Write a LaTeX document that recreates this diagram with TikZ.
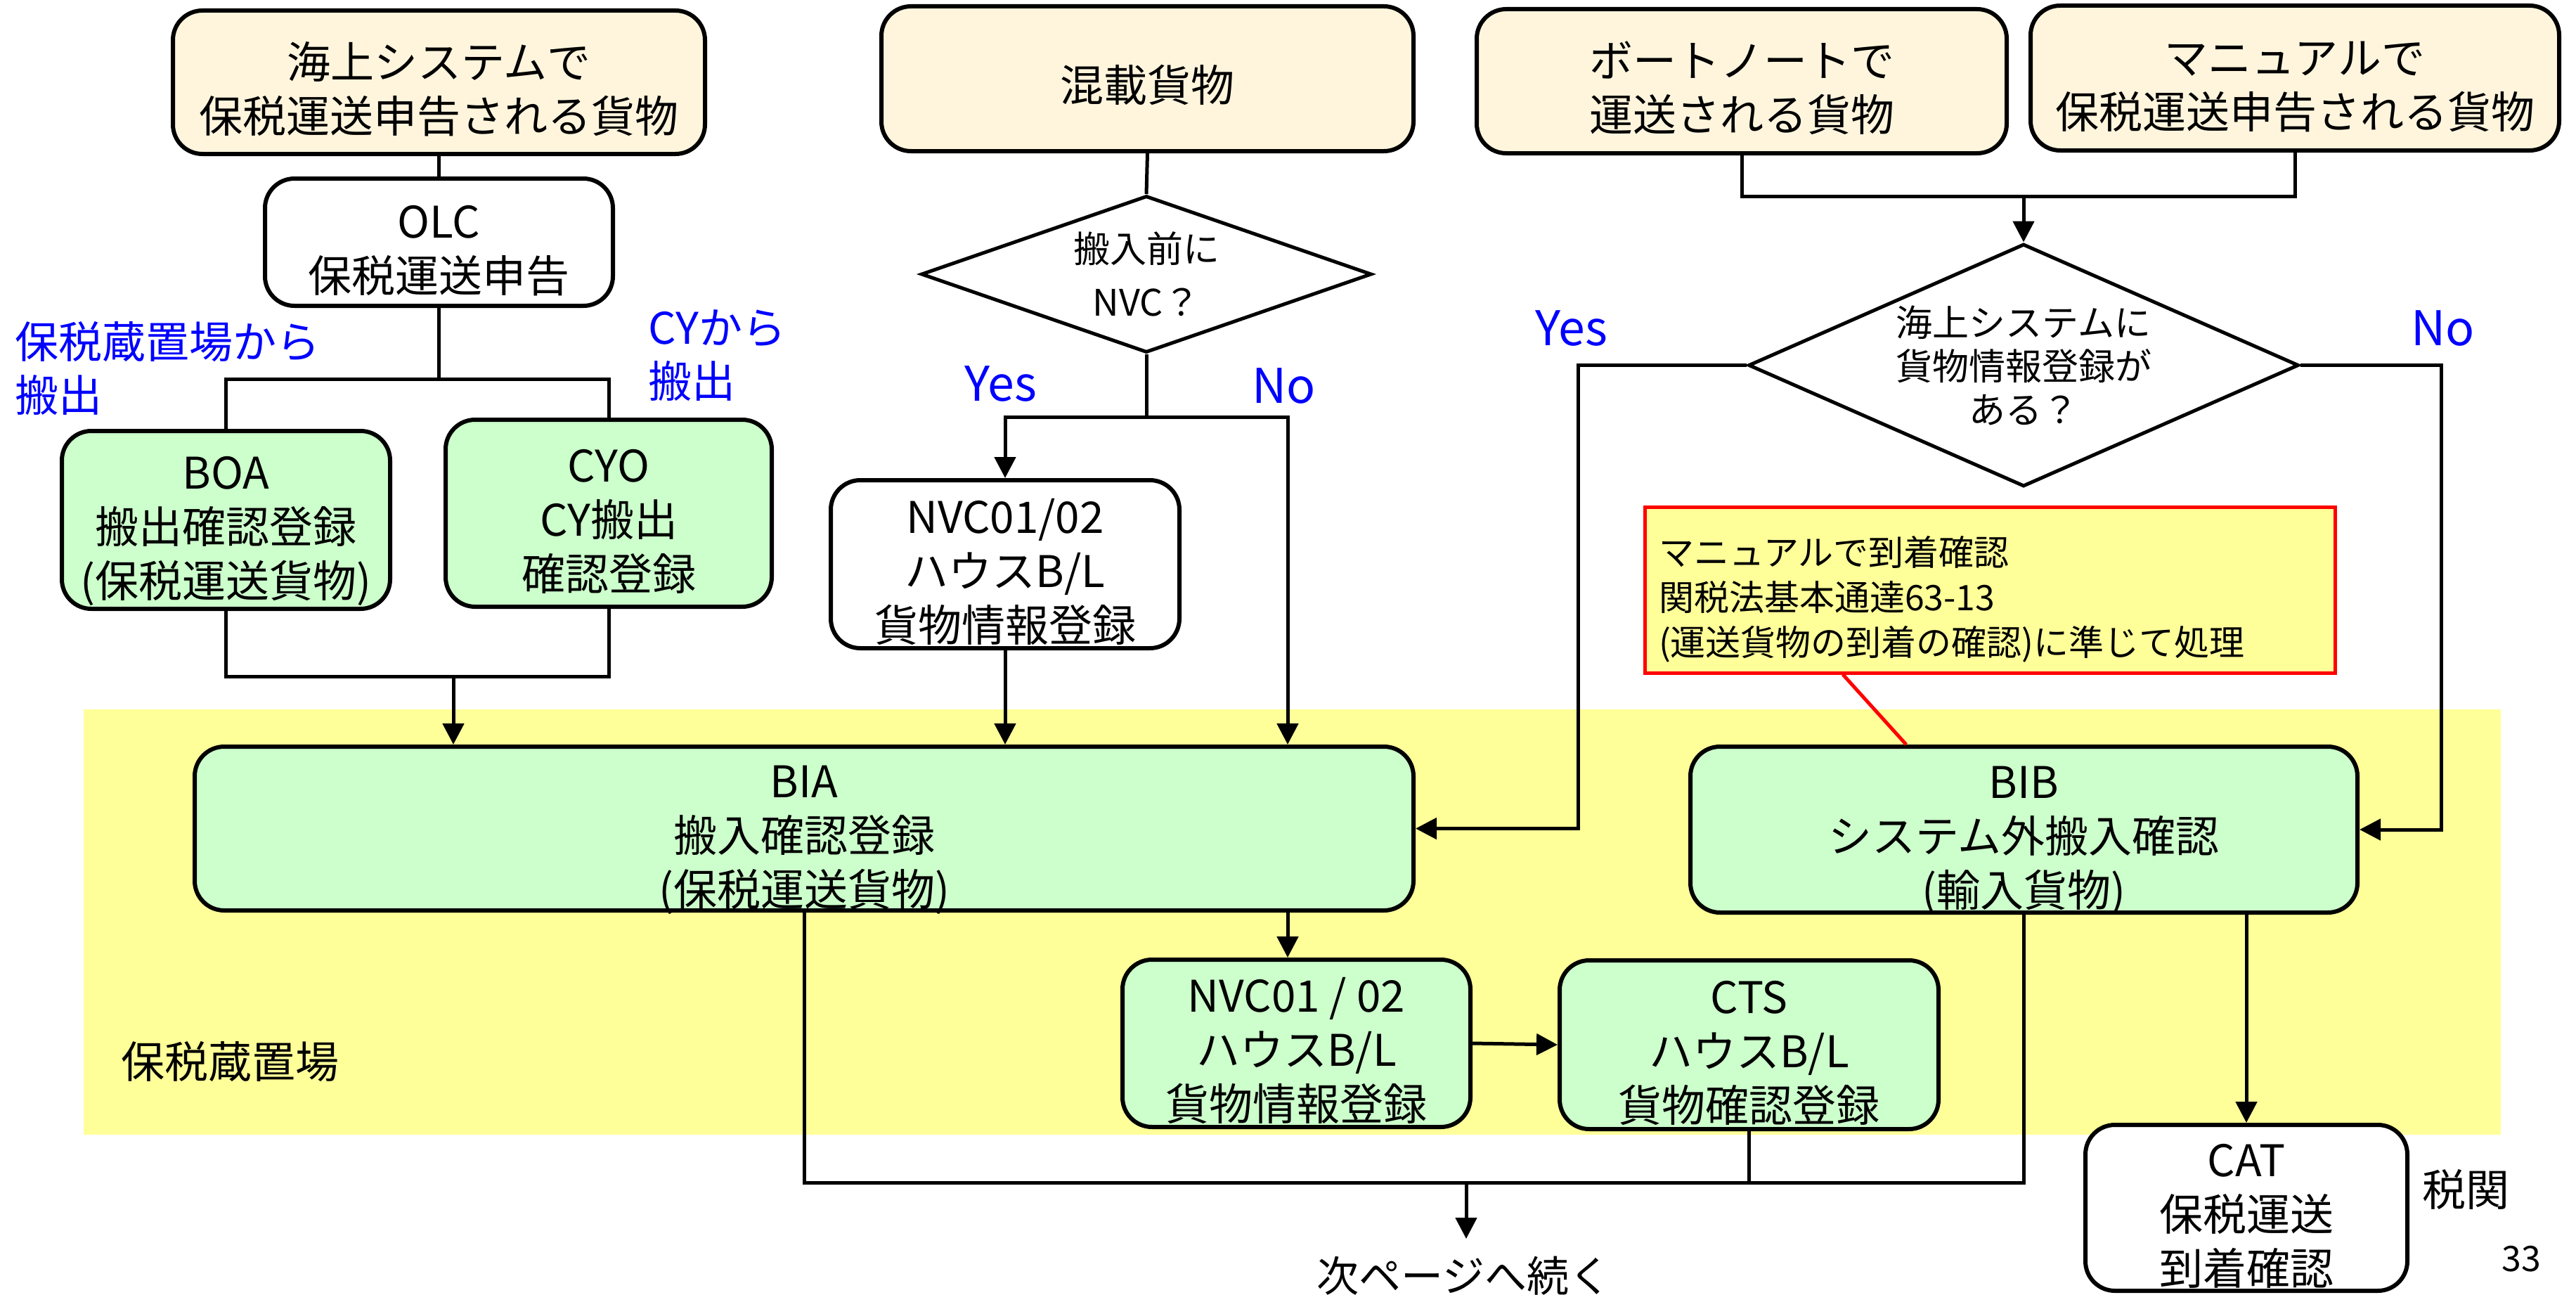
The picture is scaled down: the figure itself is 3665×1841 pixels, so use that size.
\documentclass[tikz,border=0pt]{standalone}
\usepackage{fontspec}
\setmainfont{Noto Sans CJK JP}
\usetikzlibrary{arrows.meta,shapes.geometric}

\definecolor{cargocream}{HTML}{FFF5DD}
\definecolor{procgreen}{HTML}{CCFFCC}
\definecolor{zoneyellow}{HTML}{FFFF99}

\tikzset{
  flowbox/.style={draw, line width=3pt, rounded corners=21pt, align=center, inner sep=0pt,
    font=\fontsize{31}{38.5}\selectfont},
  cargo/.style={flowbox, fill=cargocream},
  proc/.style={flowbox, fill=procgreen},
  whitebox/.style={flowbox, fill=white},
  oneline/.style={text height=32.5pt, text depth=0pt},
  twolines/.style={text height=71pt, text depth=0pt},
  threelines/.style={text height=109.5pt, text depth=0pt},
  query/.style={draw, diamond, line width=2.5pt, fill=white, align=center, inner sep=0pt},
  link/.style={line width=2.5pt},
  flow/.style={link, -{Triangle[length=15pt,width=15pt]}},
  sidelabel/.style={text=blue, align=left, inner sep=0pt, font=\fontsize{31}{38}\selectfont},
  answer/.style={text=blue, inner sep=0pt, font=\fontsize{34}{40}\selectfont},
}

\begin{document}
\begin{tikzpicture}[x=0.5pt, y=-0.5pt]
\useasboundingbox (0,0) rectangle (3665,1841);
\fill[white] (0,0) rectangle (3665,1841);

% bonded area
\fill[zoneyellow] (119,1009) rectangle (3558,1614);
\node[anchor=west, inner sep=0pt, font=\fontsize{31}{38}\selectfont] (zone) at (172,1510) {保税蔵置場};

% sources
\node[cargo, twolines, minimum width=378.5pt, minimum height=102pt] (seasys) at (624.5,117) {海上システムで\\保税運送申告される貨物};
\node[cargo, oneline, minimum width=378.5pt, minimum height=103pt] (mixed) at (1632.5,112) {混載貨物};
\node[cargo, twolines, minimum width=377pt, minimum height=102.5pt] (boat) at (2478,115.5) {ボートノートで\\運送される貨物};
\node[cargo, twolines, minimum width=376pt, minimum height=103pt] (manual) at (3265,111) {マニュアルで\\保税運送申告される貨物};

% left branch
\node[whitebox, twolines, minimum width=247.5pt, minimum height=90.5pt] (olc) at (624.5,344.5) {OLC\\保税運送申告};
\node[proc, threelines, minimum width=233.5pt, minimum height=126.5pt] (boa) at (321.5,739.5) {BOA\\搬出確認登録\\(保税運送貨物)};
\node[proc, threelines, minimum width=232pt, minimum height=133pt] (cyo) at (866,730) {CYO\\CY搬出\\確認登録};
\node[sidelabel, anchor=west] (boaside) at (21,524) {保税蔵置場から\\搬出};
\node[sidelabel, anchor=west] (cyoside) at (922,506) {CYから\\搬出};

% middle branch
\node[query, aspect=2.87, minimum width=320.5pt, minimum height=111.5pt, font=\fontsize{26}{38}\selectfont] (nvcq) at (1631,390) {搬入前に\\NVC？};
\node[whitebox, threelines, minimum width=248pt, minimum height=119.5pt] (nvca) at (1430,802.5) {NVC01/02\\ハウスB/L\\貨物情報登録};
\node[answer, anchor=base west] (nvcyes) at (1372,570) {Yes};
\node[answer, anchor=base west] (nvcnoes) at (1781,573) {No};

% right branch
\node[query, aspect=2.27, minimum width=391.5pt, minimum height=172.5pt, font=\fontsize{26}{31}\selectfont] (infoq) at (2879,519.5) {海上システムに\\貨物情報登録が\\ある？};
\node[answer, anchor=base west] (infoyes) at (2184,491) {Yes};
\node[answer, anchor=base west] (infono) at (3430,491) {No};
\node[draw=red, line width=2.5pt, fill=zoneyellow, align=left, text width=471pt, inner xsep=10pt, inner ysep=0pt,
  text height=33pt, text depth=68pt, minimum height=118pt, font=\fontsize{25}{32}\selectfont] (memo) at (2831,839)
  {マニュアルで到着確認\\関税法基本通達63-13\\(運送貨物の到着の確認)に準じて処理};

% registrations
\node[proc, threelines, minimum width=867pt, minimum height=116.5pt] (bia) at (1144,1178.5) {BIA\\搬入確認登録\\(保税運送貨物)};
\node[proc, threelines, minimum width=474.5pt, minimum height=118pt] (bib) at (2879.5,1180) {BIB\\システム外搬入確認\\(輸入貨物)};
\node[proc, threelines, minimum width=247.5pt, minimum height=119pt] (nvcb) at (1844.5,1484) {NVC01 / 02\\ハウスB/L\\貨物情報登録};
\node[proc, threelines, minimum width=269.5pt, minimum height=120pt] (cts) at (2488.5,1486) {CTS\\ハウスB/L\\貨物確認登録};
\node[whitebox, threelines, minimum width=229pt, minimum height=118pt] (cat) at (3196,1718) {CAT\\保税運送\\到着確認};
\node[anchor=west, inner sep=0pt, font=\fontsize{31}{38}\selectfont] (customs) at (3446,1692) {税関};
\node[anchor=base, inner sep=0pt, font=\fontsize{25}{30}\selectfont] (page) at (3587,1808) {33};
\node[inner sep=0pt, font=\fontsize{30}{36}\selectfont] (next) at (2083,1815) {次ページへ続く};

% connectors, left
\draw[link] (seasys.south) -- (olc.north);
\coordinate (olcfork) at (624.5,539);
\draw[link] (olc.south) -- (olcfork) -| (boa.north);
\draw[link] (olcfork) -| (cyo.north);
\coordinate (biajoin) at (645,962);
\draw[link] (boa.south) |- (biajoin) -| (cyo.south);
\draw[flow] (biajoin) -- (biajoin |- bia.north);

% connectors, middle
\draw[link] (mixed.south) -- (nvcq.north);
\coordinate (nvcfork) at (1631,593);
\coordinate (nvcno) at (1832,593);
\draw[link] (nvcq.south) -- (nvcfork);
\draw[flow] (nvcfork) -| (nvca.north);
\draw[flow] (nvcfork) -- (nvcno) -- (nvcno |- bia.north);
\draw[flow] (nvca.south) -- (nvca.south |- bia.north);

% connectors, right
\coordinate (infojoin) at (2879,279);
\draw[link] (boat.south) |- (infojoin) -| (manual.south);
\draw[flow] (infojoin) -- (infoq.north);
\draw[flow] (infoq.west) -- ++(-240,0) |- (bia.east);
\draw[flow] (infoq.east) -- ++(200,0) |- (bib.east);
\draw[red, line width=2.5pt] ([xshift=-104.5pt]memo.south) -- ([xshift=-83.75pt]bib.north);

% connectors, lower
\draw[flow] (nvcno |- bia.south) -- (nvcno |- nvcb.north);
\draw[flow] (nvcb.east) -- (cts.west);
\coordinate (nextfork) at (2086,1682);
\draw[link] (bia.south) |- (nextfork) -| (bib.south);
\draw[link] (cts.south) -- (cts.south |- nextfork);
\coordinate (nextin) at (2086,1762);
\draw[flow] (nextfork) -- (nextin);
\draw[flow] (cat.north |- bib.south) -- (cat.north);
\end{tikzpicture}
\end{document}
